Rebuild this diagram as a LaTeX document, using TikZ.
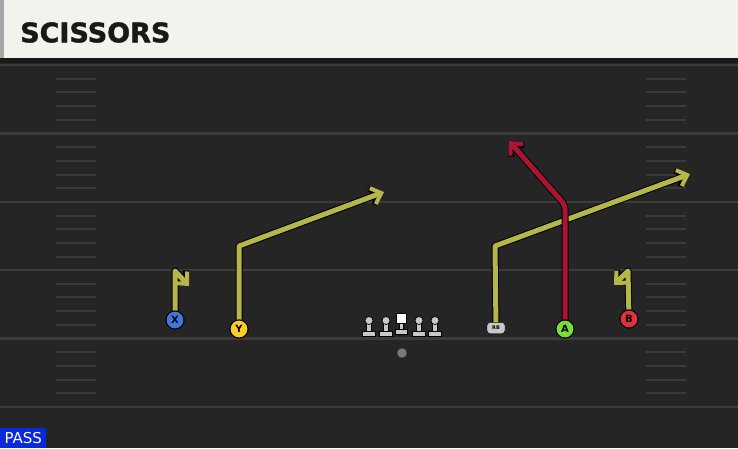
\documentclass[tikz,border=0pt]{standalone}
\usepackage{fontspec}
\setmainfont{DejaVu Sans}
\newfontfamily\titlefont{DejaVu Sans}[BoldFeatures={FakeBold=1.5}]
\usetikzlibrary{arrows.meta}

\definecolor{fieldgray}{RGB}{37,37,37}
\definecolor{linegray}{RGB}{60,60,60}
\definecolor{hashgray}{RGB}{58,58,58}
\definecolor{headercream}{RGB}{244,242,236}
\definecolor{routeyellow}{RGB}{181,183,74}
\definecolor{routered}{RGB}{172,20,52}
\definecolor{xblue}{RGB}{60,120,220}
\definecolor{yyellow}{RGB}{250,205,40}
\definecolor{agreen}{RGB}{120,220,60}
\definecolor{bred}{RGB}{225,50,60}
\definecolor{passblue}{RGB}{10,40,220}
\definecolor{olgray}{RGB}{200,200,200}
\definecolor{qbgray}{RGB}{120,120,120}

\begin{document}
\begin{tikzpicture}[x=1pt,y=-1pt,
    yardline/.style={draw=linegray,line width=2.5pt},
    hashmark/.style={draw=hashgray,line width=2pt},
    player/.style={draw=black,circle,line width=0.9pt,minimum size=18pt,inner sep=0pt,
      font=\bfseries\fontsize{10}{10}\selectfont},
    route/.style={draw=#1,line width=5pt,line join=round,
      -{Straight Barb[length=9pt,width=17pt,line width=4pt]},
      preaction={draw=black,line width=7pt,line join=round,
        -{Straight Barb[length=9pt,width=17pt,line width=6pt]}}},
    olpiece/.style={draw=black,fill=olgray,line width=0.7pt}]

  \useasboundingbox (0,0) rectangle (738,448);
  \fill[fieldgray] (0,0) rectangle (738,448);

  \foreach \y in {65,133.5,202,270,338.5,407} {
    \draw[yardline] (0,\y) -- (738,\y);
  }
  \foreach \y in {65,133.5,202,270,338.5} {
    \foreach \d in {13.7,27.4,41.1,54.8} {
      \draw[hashmark] (56,\y+\d) -- (96,\y+\d);
      \draw[hashmark] (646,\y+\d) -- (686,\y+\d);
    }
  }

  \fill[headercream] (0,0) rectangle (738,58);
  \fill[black!35] (0,0) rectangle (4,58);
  \fill[black!90] (0,58) rectangle (738,63);
  \node[anchor=west,inner sep=0pt,font=\titlefont\bfseries\fontsize{27}{27}\selectfont,text=black!90] (title) at (20,32.5) {SCISSORS};

  \node[player,fill=xblue] (X) at (175,320) {X};
  \node[player,fill=yyellow] (Y) at (239,329) {Y};
  \node[draw=black,fill=olgray,rounded corners=3pt,minimum width=18pt,minimum height=11pt,
    inner sep=0pt,font=\bfseries\fontsize{5}{5}\selectfont] (RB) at (496,328) {RB};
  \node[player,fill=agreen] (A) at (565,329) {A};
  \node[player,fill=bred] (B) at (629,319) {B};

  \foreach \x/\n in {369/lt,386/lg,419/rg,435/rt} {
    \draw[olpiece] (\x-6.5,331) rectangle (\x+6.5,336);
    \draw[olpiece] (\x-2.5,322) rectangle (\x+2.5,331.5);
    \node[olpiece,circle,minimum size=8pt,inner sep=0pt] (\n) at (\x,320.5) {};
  }
  \draw[olpiece] (395.5,329) rectangle (407.5,334);
  \draw[olpiece] (399.3,321) rectangle (403.7,329.5);
  \node[draw=black,fill=white,line width=0.7pt,minimum size=10pt,inner sep=0pt] (C) at (401.5,318) {};
  \node[circle,fill=qbgray,draw=black!80,minimum size=10pt,inner sep=0pt] (QB) at (402,353) {};

  \coordinate (xcut) at (175,271);
  \coordinate (xend) at (189,286);
  \coordinate (ycut) at (239,246);
  \coordinate (yend) at (384,192);
  \coordinate (rbcut) at (495,246);
  \coordinate (rbend) at (690,174);
  \coordinate (acut) at (565,205);
  \coordinate (aend) at (509,141);
  \coordinate (bcut) at (628,271);
  \coordinate (bend) at (614,285);

  \draw[route=routeyellow] (X) -- (xcut) -- (xend);
  \draw[route=routeyellow] (Y) -- (ycut) -- (yend);
  \draw[route=routeyellow] (RB) -- (rbcut) -- (rbend);
  \draw[route=routered,rounded corners=4pt] (A) -- (acut) -- (aend);
  \draw[route=routeyellow] (B) -- (bcut) -- (bend);

  \node[player,fill=xblue] at (X) {X};
  \node[player,fill=yyellow] at (Y) {Y};
  \node[player,fill=agreen] at (A) {A};
  \node[player,fill=bred] at (B) {B};

  \node[fill=passblue,text=white,anchor=south west,minimum width=46pt,minimum height=20pt,
    inner sep=0pt,font=\fontsize{15}{15}\selectfont] (pass) at (0,448) {PASS};
\end{tikzpicture}
\end{document}
